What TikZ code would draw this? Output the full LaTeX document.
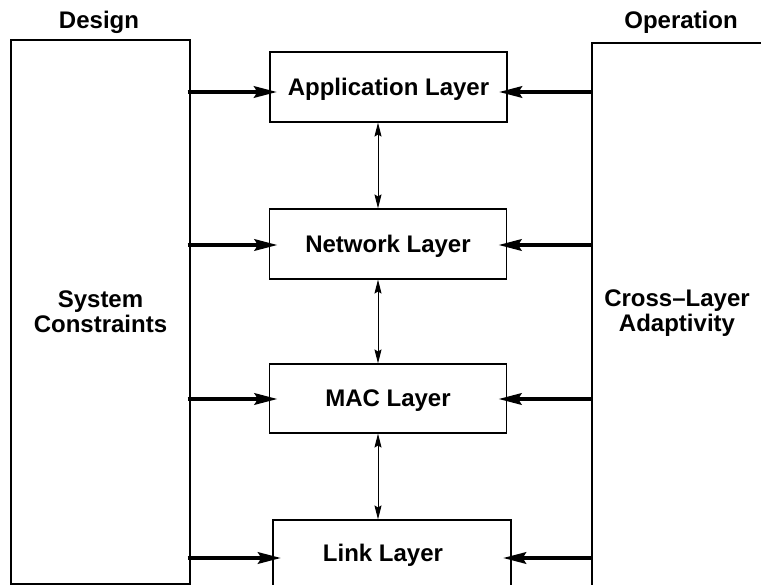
\documentclass[tikz,border=0pt]{standalone}
\usepackage{fontspec}
\setmainfont{Liberation Sans}
\usetikzlibrary{arrows.meta,calc}
\tikzset{
  lbl/.style={font=\bfseries\fontsize{24}{25}\selectfont, align=center, inner sep=0pt},
  bigbox/.style={draw, line width=1.1pt, inner sep=0pt},
  layerbox/.style={draw, line width=1.1pt, minimum width=237pt, font=\bfseries\fontsize{24}{25}\selectfont, inner sep=0pt, text depth=0pt},
  fat/.style={line width=4.6pt, -{Stealth[length=23pt,width=11pt,inset=3pt]}},
  dbl/.style={line width=1pt, {Stealth[length=14pt,width=7pt,inset=2pt]}-{Stealth[length=14pt,width=7pt,inset=2pt]}}
}
\begin{document}
\begin{tikzpicture}[x=1pt,y=-1pt]
\useasboundingbox (0,0) rectangle (761,585);
\clip (0,0) rectangle (761,585);
% side boxes
\node[bigbox, lbl, minimum width=179pt, minimum height=544pt] (sys) at (100.5,312) {System\\Constraints};
\node[bigbox, minimum width=180pt, minimum height=570pt] (cla) at (682,328) {};
\node[lbl] (clatext) at (677,313) {Cross\char"2013 Layer\\Adaptivity};
\node[lbl] (design) at (99,22) {Design};
\node[lbl] (oper) at (681,22) {Operation};
% layer boxes
\node[layerbox, minimum height=70pt] (app) at (388.5,87) {Application Layer};
\node[layerbox, minimum height=70pt] (net) at (388,244) {Network Layer};
\node[layerbox, minimum height=69pt] (mac) at (388,398.5) {MAC Layer};
\node[layerbox, minimum width=238pt, minimum height=90pt] (link) at (392,565) {};
\node[lbl, text depth=0pt] (linktext) at (383,553) {Link Layer};
% vertical double arrows
\coordinate (vx) at (378,0);
\draw[dbl] (app.south -| vx) -- (net.north -| vx);
\draw[dbl] (net.south -| vx) -- (mac.north -| vx);
\draw[dbl] (mac.south -| vx) -- (link.north -| vx);
% left arrows
\draw[fat] ($(sys.east |- app.west)+(-3,5)$) -- ($(app.west)+(8,5)$);
\draw[fat] ($(sys.east |- net.west)+(-3,1)$) -- ($(net.west)+(9,1)$);
\draw[fat] ($(sys.east |- mac.west)+(-3,0.5)$) -- ($(mac.west)+(9,0.5)$);
\draw[fat] ($(sys.east |- link.west)+(-3,-7)$) -- ($(link.west)+(9,-7)$);
% right arrows
\draw[fat] ($(cla.west |- app.east)+(0,5)$) -- ($(app.east)+(-9,5)$);
\draw[fat] ($(cla.west |- net.east)+(0,1)$) -- ($(net.east)+(-9,1)$);
\draw[fat] ($(cla.west |- mac.east)+(0,0.5)$) -- ($(mac.east)+(-9,0.5)$);
\draw[fat] ($(cla.west |- link.east)+(0,-7)$) -- ($(link.east)+(-9,-7)$);
\end{tikzpicture}
\end{document}
